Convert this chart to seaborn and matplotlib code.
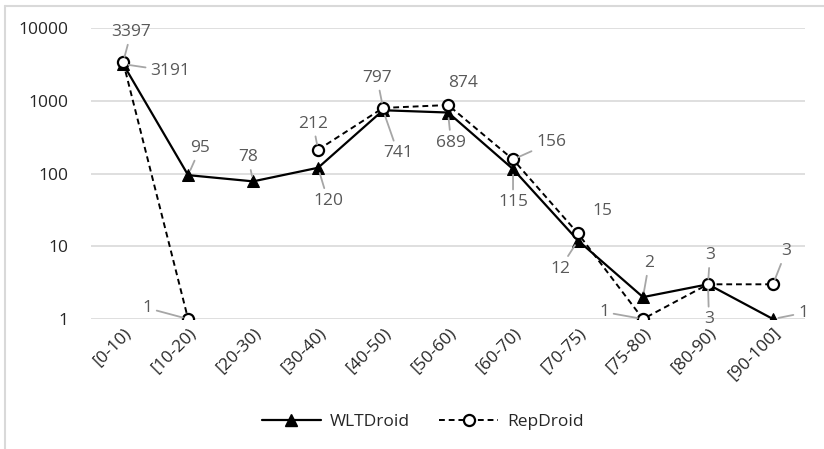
import numpy as np
import pandas as pd
import matplotlib.pyplot as plt
import seaborn as sns
from matplotlib.lines import Line2D

sns.set_style('white')
plt.rcParams['font.family'] = ['Open Sans', 'DejaVu Sans']

categories = ["[0-10)", "[10-20)", "[20-30)", "[30-40)", "[40-50)", "[50-60)",
              "[60-70)", "[70-75)", "[75-80)", "[80-90)", "[90-100]"]
wltdroid = [3191, 95, 78, 120, 741, 689, 115, 12, 2, 3, 1]
repdroid = [3397, 1, np.nan, 212, 797, 874, 156, 15, 1, 3, 3]

# label offsets in pixels (dx right, dy up) from the point, and whether a leader line shows
wlt_off = [(47, -7), (12, 27), (-5, 24), (10, -33), (15, -43), (3, -30),
           (0, -33), (-18, -28), (6, 34), (1, -35), (30, 6)]
rep_off = [(8, 30), (-41, 11), None, (-5, 26), (-6, 30), (15, 22),
           (38, 17), (24, 22), (-39, 7), (2, 29), (13, 33)]
rep_leader = [True, True, False, True, True, False, True, False, True, True, True]

pos = np.arange(len(categories))
wlt_df = pd.DataFrame({"pos": pos, "value": wltdroid})
rep_df = pd.DataFrame({"pos": pos, "value": repdroid})
# split RepDroid where values are missing so the line breaks
rep_df["seg"] = rep_df["value"].isna().cumsum()
rep_df = rep_df.dropna()

fig = plt.figure(figsize=(8.24, 4.49), dpi=100)
ax = fig.add_axes([0.110, 0.2895, 0.8675, 0.6481])

sns.lineplot(data=wlt_df, x="pos", y="value", color="black", lw=1.6,
             marker="^", markersize=9, markeredgecolor="black",
             markerfacecolor="black", ax=ax, legend=False, zorder=3)
sns.lineplot(data=rep_df, x="pos", y="value", units="seg", estimator=None,
             color="black", lw=1.4, linestyle=(0, (3, 2)),
             marker="o", markersize=8, markeredgecolor="black",
             markeredgewidth=1.6, markerfacecolor="white",
             ax=ax, legend=False, zorder=4)

ax.set_yscale("log")
ax.set_ylim(1, 10000)
ax.set_xlim(-0.5, len(categories) - 0.5)
ax.set_yticks([1, 10, 100, 1000, 10000])
ax.set_yticklabels(["1", "10", "100", "1000", "10000"])
ax.minorticks_off()
ax.set_xticks(pos)
ax.set_xticklabels(categories, rotation=45, ha="right", rotation_mode="anchor")
ax.tick_params(axis="both", length=0, labelsize=12.5, labelcolor="#262626")
ax.tick_params(axis="y", pad=16)
ax.tick_params(axis="x", pad=4)
ax.grid(axis="y", color="#d9d9d9", lw=1.2)
ax.set_axisbelow(True)
for s in ax.spines.values():
    s.set_visible(False)
ax.set_xlabel("")
ax.set_ylabel("")

px = 0.72  # pixels to points at 100 dpi


def label(x, y, off, text, leader=True):
    dx, dy = off
    arrow = None
    if leader:
        arrow = dict(arrowstyle="-", color="#a6a6a6", lw=1.3, shrinkA=1, shrinkB=4)
    ax.annotate(text, (x, y), xytext=(dx * px, dy * px), textcoords="offset points",
                ha="center", va="center", fontsize=12.5, color="#595959",
                arrowprops=arrow, zorder=5)


for i, v in enumerate(wltdroid):
    label(i, v, wlt_off[i], str(v))
for i, v in enumerate(repdroid):
    if rep_off[i] is not None and not np.isnan(v):
        label(i, v, rep_off[i], str(int(v)), rep_leader[i])

handles = [
    Line2D([], [], color="black", lw=1.6, marker="^", markersize=9,
           markerfacecolor="black", markeredgecolor="black"),
    Line2D([], [], color="black", lw=1.4, linestyle=(0, (3, 2)), marker="o",
           markersize=8, markerfacecolor="white", markeredgecolor="black",
           markeredgewidth=1.6),
]
fig.legend(handles, ["WLTDroid", "RepDroid"], loc="center", bbox_to_anchor=(0.513, 0.06),
           ncol=2, frameon=False, fontsize=12.5, handlelength=3.4, handletextpad=0.5,
           columnspacing=1.7, labelcolor="#262626")

# chart area border (top and left visible)
fig.add_artist(Line2D([5 / 824, 1], [1 - 6 / 449, 1 - 6 / 449], color="#d9d9d9", lw=1.5))
fig.add_artist(Line2D([5 / 824, 5 / 824], [0, 1 - 6 / 449], color="#d9d9d9", lw=1.5))

fig.savefig("out.png", dpi=100)
